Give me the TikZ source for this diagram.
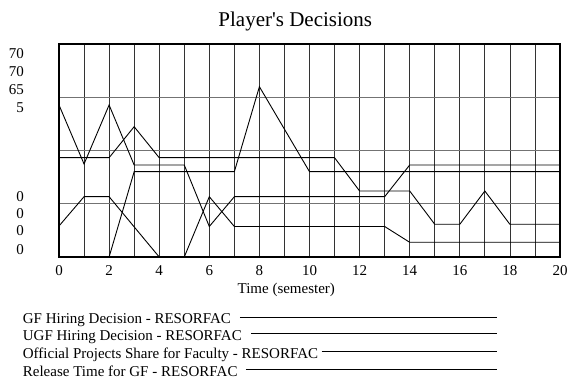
\documentclass[tikz,border=0pt]{standalone}
\usepackage{fontspec}
\setmainfont{Liberation Serif}[Ligatures=TeXOff]
\usepackage{tikz}
\tikzset{
    grid-line/.style = {draw=black!55, line width=0.8pt},
    time-line/.style = {draw=black!80, line width=0.8pt},
    data-line/.style = {draw=black, line width=0.9pt},
    plot-frame/.style = {draw=black, line width=1.6pt},
    chart-text/.style = {inner sep=0pt, font=\fontsize{15}{17}\selectfont},
    chart-title/.style = {inner sep=0pt, font=\fontsize{21}{24}\selectfont},
}

\begin{document}
\begin{tikzpicture}[x=1pt, y=1pt]
\useasboundingbox (0,0) rectangle (572,385);
\node[chart-title, anchor=base] (title) at (295.3,358.3) {Player's Decisions};
\begin{scope}[shift={(59,128)}, x=25.05pt]
  \foreach \t in {1,...,19} \draw[time-line] (\t,0) -- (\t,213);
  \foreach \v in {53.25,106.5,159.75} \draw[grid-line] (0,\v) -- (20,\v);
  % the four decisions
  \draw[data-line] plot coordinates {(0,152) (1,93) (2,152) (3,92) (5,92) (6,30.5) (7,60.3) (13,60.3) (14,92) (20,92)};
  \draw[data-line] plot coordinates {(0,99.3) (2,99.3) (3,130.3) (4,99.3) (11,99.3) (12,66) (14,66) (15,32.7) (16,32.7) (17,66) (18,32.7) (20,32.7)};
  \draw[data-line] plot coordinates {(0,31) (1,60.3) (2,60.3) (4,0) (5,0) (6,60.3) (7,30.5) (13,30.5) (14,14.7) (20,14.7)};
  \draw[data-line] plot coordinates {(0,0) (2,0) (3,85.3) (7,85.3) (8,170.3) (10,85.3) (20,85.3)};
  \draw[plot-frame] (0,0) rectangle (20,213);
  \foreach \t in {0,2,...,20} \node[chart-text, anchor=base] (tick-\t) at (\t,-18.7) {\t};
\end{scope}
\node[chart-text, anchor=base] (time-label) at (286.3,91) {Time (semester)};
% scale labels
\foreach \lbl/\y [count=\i] in {70/331,70/313.3,65/295.7,5/277.7,0/188.3,0/171.7,0/154,0/135.7}
  \node[chart-text, anchor=east] (scale-\i) at (24,\y) {\lbl};
% legend
\coordinate (legend-end) at (497.3,0);
\foreach \name/\txt/\yb/\gap in {gf/GF Hiring Decision - RESORFAC/61/8.7,
    ugf/UGF Hiring Decision - RESORFAC/44.6/9,
    ops/Official Projects Share for Faculty - RESORFAC/27/3.3,
    rt/Release Time for GF - RESORFAC/9/8.3} {
  \node[chart-text, anchor=base west] (legend-\name) at (22.7,\yb) {\txt};
  \draw[data-line] ([xshift=\gap pt, yshift=6.7pt]legend-\name.base east) -- ([yshift=6.7pt]legend-\name.base east -| legend-end);
}
\end{tikzpicture}
\end{document}
